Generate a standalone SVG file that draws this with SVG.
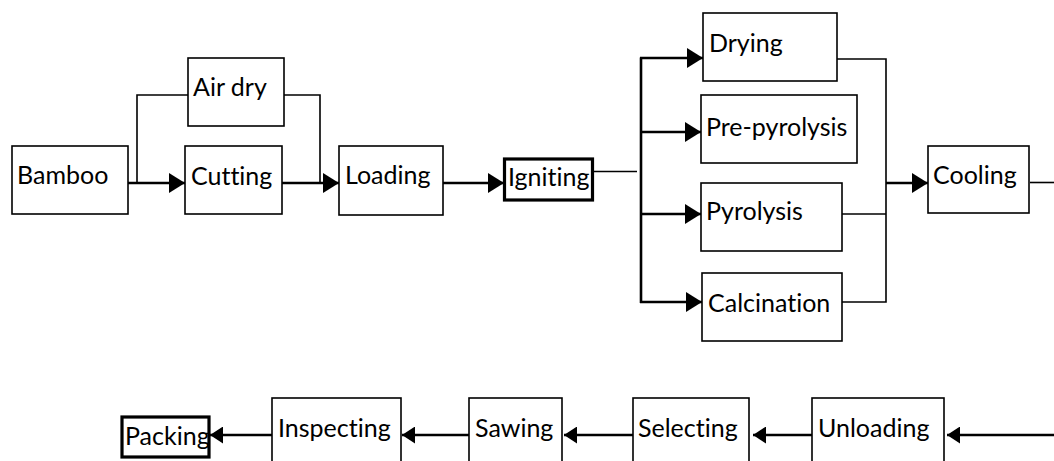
<svg xmlns="http://www.w3.org/2000/svg" width="1054" height="461" viewBox="0 0 1054 461">
<style>
.box{fill:#fff;stroke:#000;stroke-width:1.6}
.bold{fill:#fff;stroke:#000;stroke-width:3.2}
text{font-family:Lato,"Open Sans",sans-serif;font-size:25px;fill:#000;font-variant-ligatures:none}
.thick{stroke:#000;stroke-width:2.6;fill:none}
.thin{stroke:#000;stroke-width:1.6;fill:none}
</style>
<defs>
<marker id="ah" markerUnits="userSpaceOnUse" markerWidth="16" markerHeight="20" refX="16" refY="10" orient="auto" viewBox="0 0 16 20">
<path d="M0,0 L16,10 L0,20 Z" fill="#000"/>
</marker>
<marker id="ahs" markerUnits="userSpaceOnUse" markerWidth="13" markerHeight="17" refX="13" refY="8.5" orient="auto" viewBox="0 0 13 17">
<path d="M0,0 L13,8.5 L0,17 Z" fill="#000"/>
</marker>
</defs>
<rect width="1054" height="461" fill="#fff"/>
<g id="connectors">
<line class="thick" x1="128" y1="183" x2="185" y2="183" marker-end="url(#ah)"/>
<polyline class="thin" points="137,183 137,95 188,95"/>
<polyline class="thin" points="284,95 320,95 320,183"/>
<line class="thick" x1="282" y1="183" x2="339" y2="183" marker-end="url(#ah)"/>
<line class="thick" x1="443" y1="183" x2="504" y2="183" marker-end="url(#ah)"/>
<line class="thin" x1="593" y1="171.5" x2="637" y2="171.5"/>
<line class="thick" x1="641" y1="57.5" x2="641" y2="303"/>
<line class="thick" x1="640" y1="58" x2="703" y2="58" marker-end="url(#ah)"/>
<line class="thick" x1="640" y1="132" x2="701" y2="132" marker-end="url(#ah)"/>
<line class="thick" x1="640" y1="214" x2="701" y2="214" marker-end="url(#ah)"/>
<line class="thick" x1="640" y1="302" x2="702" y2="302" marker-end="url(#ah)"/>
<polyline class="thin" points="837,59 886,59 886,302 842,302"/>
<line class="thin" x1="842" y1="214" x2="886" y2="214"/>
<line class="thick" x1="886" y1="183" x2="928" y2="183" marker-end="url(#ah)"/>
<line class="thin" x1="1030" y1="182.5" x2="1054" y2="182.5"/>
<line class="thick" x1="1054" y1="435" x2="947" y2="435" marker-end="url(#ahs)"/>
<line class="thick" x1="812" y1="435" x2="753" y2="435" marker-end="url(#ahs)"/>
<line class="thick" x1="633" y1="435" x2="564" y2="435" marker-end="url(#ahs)"/>
<line class="thick" x1="469" y1="435" x2="402" y2="435" marker-end="url(#ahs)"/>
<line class="thick" x1="272" y1="435" x2="210" y2="435" marker-end="url(#ahs)"/>
</g>
<g id="bamboo"><rect class="box" x="12" y="146" width="116" height="68"/><text x="17" y="184">Bamboo</text></g>
<g id="airdry"><rect class="box" x="188" y="58" width="96" height="68"/><text x="193" y="96">Air dry</text></g>
<g id="cutting"><rect class="box" x="185" y="146" width="97" height="68"/><text x="191" y="185">Cutting</text></g>
<g id="loading"><rect class="box" x="339" y="146" width="104" height="69"/><text x="345" y="184">Loading</text></g>
<g id="igniting"><rect class="bold" x="504.5" y="159" width="88" height="41"/><text x="508" y="186">Igniting</text></g>
<g id="drying"><rect class="box" x="703" y="13" width="134" height="68"/><text x="709" y="52">Drying</text></g>
<g id="prepyrolysis"><rect class="box" x="701" y="95" width="156" height="68"/><text x="706" y="136">Pre-pyrolysis</text></g>
<g id="pyrolysis"><rect class="box" x="701" y="183" width="141" height="68"/><text x="706" y="220">Pyrolysis</text></g>
<g id="calcination"><rect class="box" x="702" y="273" width="140" height="68"/><text x="708" y="312">Calcination</text></g>
<g id="cooling"><rect class="box" x="928" y="146" width="101" height="67"/><text x="933" y="184">Cooling</text></g>
<g id="unloading"><rect class="box" x="812" y="398" width="132" height="70"/><text x="818" y="437">Unloading</text></g>
<g id="selecting"><rect class="box" x="633" y="398" width="116" height="70"/><text x="638" y="437">Selecting</text></g>
<g id="sawing"><rect class="box" x="469" y="398" width="93" height="70"/><text x="475" y="437">Sawing</text></g>
<g id="inspecting"><rect class="box" x="272" y="398" width="129" height="70"/><text x="278" y="437">Inspecting</text></g>
<g id="packing"><rect class="bold" x="122" y="417" width="87" height="40"/><text x="125" y="445">Packing</text></g>
</svg>
